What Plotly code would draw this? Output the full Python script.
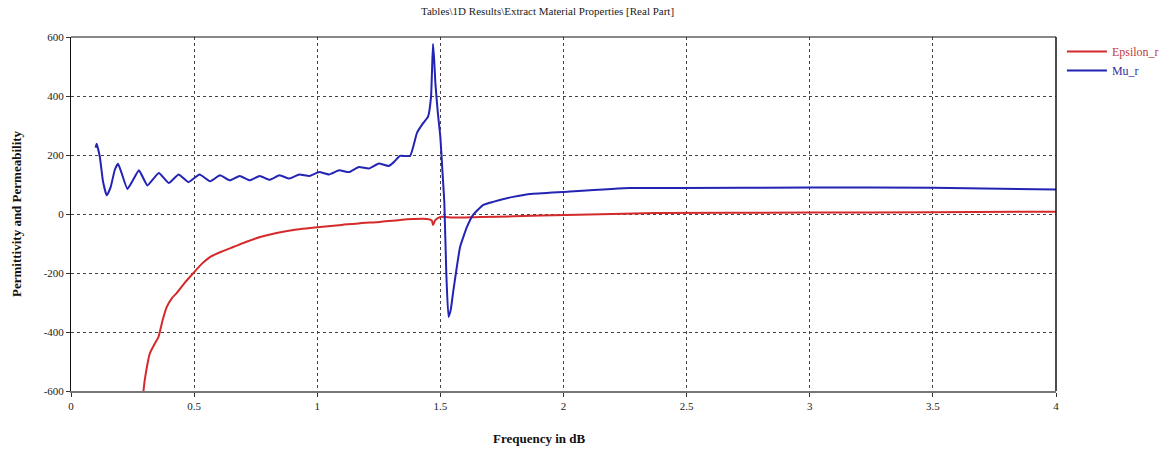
import plotly.graph_objects as go

title_text = "Tables\\1D Results\\Extract Material Properties [Real Part]"
x_title = "Frequency in dB"
y_title = "Permittivity and Permeability"

x_ticks = [0, 0.5, 1, 1.5, 2, 2.5, 3, 3.5, 4]
x_tick_labels = ["0", "0.5", "1", "1.5", "2", "2.5", "3", "3.5", "4"]
y_ticks = [-600, -400, -200, 0, 200, 400, 600]
y_tick_labels = ["-600", "-400", "-200", "0", "200", "400", "600"]

mu_freq = [0.10, 0.104, 0.117, 0.13, 0.145, 0.161, 0.178, 0.191, 0.205, 0.229, 0.252, 0.276,
           0.310, 0.335, 0.357, 0.397, 0.437, 0.477, 0.522, 0.565, 0.605, 0.645, 0.685, 0.726,
           0.766, 0.806, 0.847, 0.887, 0.927, 0.968, 1.008, 1.048, 1.089, 1.129, 1.169, 1.21,
           1.25, 1.29, 1.31, 1.336, 1.377, 1.405, 1.43, 1.45, 1.462, 1.47, 1.475, 1.48, 1.49,
           1.50, 1.508, 1.516, 1.524, 1.533, 1.542, 1.553, 1.58, 1.608, 1.633, 1.673, 1.714,
           1.795, 1.864, 2.0, 2.27, 2.47, 3.0, 3.5, 4.0]
mu_vals = [225, 238, 194, 110, 63, 91, 150, 170, 140, 85, 115, 148,
           97, 120, 139, 105, 134, 108, 134, 111, 131, 114, 129, 114,
           129, 116, 131, 120, 134, 129, 142, 134, 148, 142, 159, 154,
           171, 163, 175, 197, 197, 275, 308, 330, 397, 576, 520, 440, 340,
           260, 150, 40, -200, -349, -325, -258, -112, -44, -3, 30, 41,
           58, 68, 75, 88, 88, 90, 89, 83]

eps_freq = [0.294, 0.30, 0.321, 0.34, 0.355, 0.372, 0.389, 0.41, 0.429, 0.46, 0.497, 0.53,
            0.564, 0.61, 0.659, 0.71, 0.768, 0.83, 0.903, 1.011, 1.1, 1.174, 1.255, 1.336,
            1.446, 1.465, 1.47, 1.48, 1.5, 1.55, 1.66, 1.8, 2.01, 2.37, 3.0, 3.5, 4.0]
eps_vals = [-603, -560, -471, -440, -417, -360, -315, -285, -268, -235, -200, -170,
            -146, -128, -112, -95, -78, -65, -54, -44, -37, -31, -27, -20,
            -17, -22, -37, -20, -10, -12, -10, -8, -3, 3, 5, 6, 8]

RED = "#d42a2a"
BLUE = "#2323b4"
FONT = "Liberation Serif"

fig = go.Figure()
fig.add_trace(go.Scatter(x=eps_freq, y=eps_vals, mode="lines",
                         name="<span style='color:#c04040'>Epsilon_r</span>",
                         line=dict(color=RED, width=2, shape="spline", smoothing=0.6)))
fig.add_trace(go.Scatter(x=mu_freq, y=mu_vals, mode="lines",
                         name="<span style='color:#3030a0'>Mu_r</span>",
                         line=dict(color=BLUE, width=2, shape="spline", smoothing=0.4)))

fig.update_layout(
    width=1169, height=450,
    margin=dict(l=71, r=113, t=37, b=59, autoexpand=False),
    paper_bgcolor="white", plot_bgcolor="white",
    font=dict(family=FONT, size=12, color="#222"),
    showlegend=True,
    legend=dict(x=1.006, y=1.0, xanchor="left", yanchor="top",
                font=dict(family=FONT, size=12), bgcolor="rgba(0,0,0,0)",
                tracegroupgap=0, itemwidth=40),
    annotations=[
        dict(text=title_text, x=0.484, y=1, xref="paper", yref="paper",
             yshift=18, xanchor="center", yanchor="bottom", showarrow=False,
             font=dict(family=FONT, size=11, color="#222")),
        dict(text="<b>" + x_title + "</b>", x=0.476, y=0, xref="paper", yref="paper",
             yshift=-38, xanchor="center", yanchor="top", showarrow=False,
             font=dict(family=FONT, size=13, color="#111")),
        dict(text="<b>" + y_title + "</b>", x=0, y=0.5, xref="paper", yref="paper",
             xshift=-55, xanchor="center", yanchor="middle", showarrow=False, textangle=-90,
             font=dict(family=FONT, size=13, color="#111")),
    ],
)
fig.update_xaxes(range=[0, 4], tickvals=x_ticks, ticktext=x_tick_labels,
                 showgrid=True, gridcolor="#444", griddash="dot", gridwidth=1,
                 showline=True, linecolor="#777", linewidth=2, mirror=False,
                 ticks="outside", ticklen=4, tickcolor="#333",
                 tickfont=dict(family=FONT, size=11, color="#222"), zeroline=False)
fig.update_yaxes(range=[-600, 600], tickvals=y_ticks, ticktext=y_tick_labels,
                 showgrid=True, gridcolor="#444", griddash="dot", gridwidth=1,
                 showline=True, linecolor="#111", linewidth=1, mirror=False,
                 ticks="outside", ticklen=4, tickcolor="#333",
                 tickfont=dict(family=FONT, size=11, color="#222"), zeroline=False)
# frame (top and right borders)
fig.add_shape(type="line", xref="paper", yref="paper", x0=0, x1=1, y0=1, y1=1,
              line=dict(color="#111", width=1))
fig.add_shape(type="line", xref="paper", yref="paper", x0=1, x1=1, y0=0, y1=1,
              line=dict(color="#111", width=1.5))

fig.write_html("out.html")
